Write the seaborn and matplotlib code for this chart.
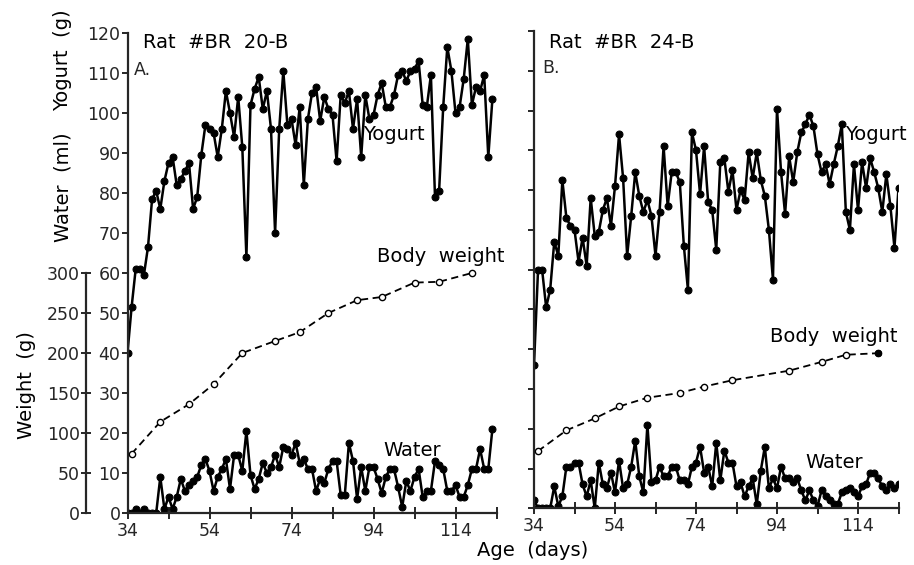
import matplotlib
matplotlib.use("Agg")
import matplotlib.pyplot as plt
import numpy as np
import seaborn as sns

# Panel A: Rat #BR 20-B, daily intake from day 34
yogurt_a = [40, 51.5, 61, 61, 59.5, 66.5, 78.5, 80.5, 76, 83, 87.5, 89, 82, 83.5, 85.5, 87.5,
            76, 79, 89.5, 97, 96, 95, 89, 96, 105.5, 100, 94, 104, 91.5, 64, 102, 106, 109,
            101, 105.5, 96, 70, 96, 110.5, 97, 98.5, 92, 101.5, 82, 98.5, 105,
            106.5, 98, 104, 101, 99.5, 88, 104.5, 102.5, 105.5, 96, 103.5, 89, 104.5, 98.5,
            99.5, 104.5, 107.5, 101.5, 101.5, 104.5, 109.5, 110.5, 108, 110.5, 111, 113, 102,
            101.5, 109.5, 79, 80.5, 101.5, 116.5, 110.5, 100, 101.5, 108.5, 118.5, 102, 106.5,
            105.5, 109.5, 89, 103.5]
water_a = [0, 0, 1, 0, 1, 0, 0, 0, 9, 1, 4, 1, 4, 8.5, 5.5, 7, 8, 9, 12, 13.5, 10.5, 5.5, 9,
           11, 13.5, 6, 14.5, 14.5, 10.5, 20.5, 9.5, 6, 8.5, 12.5, 10, 11.5, 14.5, 11.5, 16.5,
           16, 14.5, 17.5, 12.5, 13.5, 11, 11, 5.5, 8.5,
           7.5, 11, 13, 13, 4.5, 4.5, 17.5, 13, 3.5, 11.5, 5.5, 11.5, 11.5, 8.5, 5, 9, 11, 11,
           6.5, 1.5, 8, 5.5, 9, 11, 4, 5.5, 5.5, 13, 12, 11, 5.5, 5.5, 7, 4, 4, 7, 11, 11, 16,
           11, 11, 21]
weight_days_a = [35, 42, 49, 55, 62, 70, 76, 83, 90, 96, 104, 110, 118]
weight_a = [74, 114, 136, 161, 200, 215, 226, 250, 266, 270, 288, 289, 300]

# Panel B: Rat #BR 24-B
yogurt_b = [36, 60, 60, 50.5, 55, 67, 63.5, 82.5, 73, 71, 70, 62, 68, 61, 78, 68.5, 69.5, 75,
            78, 71, 81, 94, 83, 63.5, 73.5, 84.5, 78.5, 74.5, 77.5, 73.5, 63.5, 74.5, 91, 76,
            84.5, 84.5, 82, 66, 55, 94.5, 90, 79, 91, 77, 75, 65, 87, 88,
            79.5, 85, 75, 80, 77.5, 89.5, 83, 89.5, 82.5, 78.5, 70, 57.5, 100.5, 84.5, 74,
            88.5, 82, 89.5, 94.5, 96.5, 99, 96, 89, 84.5, 86.5, 81.5, 86.5, 91, 96.5, 74.5,
            70, 86.5, 75, 87, 80.5, 88, 84.5, 80.5, 74.5, 84, 76, 65.5, 80.5]
water_b = [2, 0, 0, 0, 0, 5.5, 0.5, 3, 10.5, 10.5, 11.5, 11.5, 6, 3, 7, 0, 11.5, 6, 5, 9, 4,
           12, 5, 6, 10.5, 17, 8, 4, 21, 6.5, 7, 10.5, 8, 8, 10.5, 10.5, 7, 7, 6, 10.5, 11.5,
           15.5, 9, 10.5, 5.5, 16.5,
           7, 14.5, 11.5, 11.5, 5.5, 6.5, 3, 5.5, 7.5, 1, 9.5, 15.5, 5, 7.5, 5, 10.5, 7.5,
           7.5, 6.5, 7.5, 4.5, 2, 4.5, 2, 0.5, 4.5, 3, 2, 1, 1, 4, 4.5, 5, 4, 3, 5.5, 6, 9, 9,
           7.5, 5.5, 4.5, 6, 5, 6]
weight_days_b = [35, 42, 49, 55, 62, 70, 76, 83, 97, 105, 111, 119]
weight_b = [72, 98, 113, 128, 139, 145, 153, 161, 173, 184, 193, 195]

x_ticks = list(range(34, 125, 10))
x_labels = ["34", "", "54", "", "74", "", "94", "", "114", ""]
intake_ticks = list(range(0, 121, 10))
weight_ticks = list(range(0, 301, 50))

sns.set_style("ticks")
plt.rcParams["font.family"] = ["DejaVu Sans"]
plt.rcParams["axes.linewidth"] = 1.6

W, H = 914, 565
fig = plt.figure(figsize=(W / 100, H / 100), dpi=100)


def px(x, y):
    return x / W, 1 - y / H


def draw_panel(rect, yogurt, water, w_days, weight, first):
    ax = fig.add_axes(rect)
    days = np.arange(34, 34 + len(yogurt))
    days_w = np.arange(34, 34 + len(water))
    line_kw = dict(color="black", linewidth=1.8, marker="o", markersize=5,
                   markeredgecolor="black", ax=ax)
    sns.lineplot(x=days, y=yogurt, **line_kw)
    sns.lineplot(x=days_w, y=water, **line_kw)
    ax.set_xlim(34, 124)
    ax.set_ylim(0, 120)
    ax.set_xticks(x_ticks)
    ax.set_xticklabels(x_labels, fontsize=12.5)
    ax.set_yticks(intake_ticks)
    if first:
        ax.set_yticklabels([str(t) for t in intake_ticks], fontsize=12.5)
    else:
        ax.set_yticklabels([])
    ax.tick_params(axis="x", direction="inout", length=9, width=1.4, pad=2)
    ax.tick_params(axis="y", direction="out", length=4, width=1.4, pad=1)
    for side in ["top", "right"]:
        ax.spines[side].set_visible(False)
    ax.set_xlabel("")
    ax.set_ylabel("")
    ax.patch.set_alpha(0)

    # body weight uses its own 0-600 scale so that 300 g sits at the 60 mark
    axw = ax.twinx()
    sns.lineplot(x=w_days, y=weight, ax=axw, color="black", linewidth=1.3,
                 linestyle=(0, (4, 2.5)), marker="o", markersize=4.5,
                 markerfacecolor="white", markeredgecolor="black", markeredgewidth=1)
    axw.set_ylim(0, 600)
    axw.set_ylabel("")
    axw.spines["right"].set_visible(False)
    axw.spines["top"].set_visible(False)
    axw.spines["bottom"].set_visible(False)
    if first:
        axw.spines["left"].set_visible(True)
        axw.spines["left"].set_position(("axes", -0.1125))
        axw.spines["left"].set_bounds(0, 300)
        axw.yaxis.set_ticks_position("left")
        axw.set_yticks(weight_ticks)
        axw.set_yticklabels([str(t) for t in weight_ticks], fontsize=12.5)
        axw.tick_params(axis="y", direction="inout", length=7, width=1.4, pad=1)
    else:
        axw.spines["left"].set_visible(False)
        axw.set_yticks([])
        # last weighing in panel B is drawn filled
        sns.scatterplot(x=w_days[-1:], y=weight[-1:], ax=axw, color="black", s=22,
                        edgecolor="black", zorder=5)
    return ax


draw_panel([127.5 / W, 1 - 513 / H, 369 / W, 480 / H],
           yogurt_a, water_a, weight_days_a, weight_a, True)
draw_panel([534 / W, 1 - 508.3 / H, 364.5 / W, 477.3 / H],
           yogurt_b, water_b, weight_days_b, weight_b, False)

txt = dict(fontsize=14, color="black")
fig.text(*px(143, 43), "Rat  #BR  20-B", va="center", ha="left", **txt)
fig.text(*px(134, 70), "A.", va="center", ha="left", fontsize=12.5)
fig.text(*px(549, 43), "Rat  #BR  24-B", va="center", ha="left", **txt)
fig.text(*px(542, 68), "B.", va="center", ha="left", fontsize=12.5)

fig.text(*px(363, 135), "Yogurt", va="center", ha="left", **txt)
fig.text(*px(377, 256), "Body  weight", va="center", ha="left", **txt)
fig.text(*px(383, 450), "Water", va="center", ha="left", **txt)
fig.text(*px(845, 135), "Yogurt", va="center", ha="left", **txt)
fig.text(*px(770, 337), "Body  weight", va="center", ha="left", **txt)
fig.text(*px(805, 463), "Water", va="center", ha="left", **txt)

fig.text(*px(63, 60), "Yogurt  (g)", rotation=90, va="center", ha="center", **txt)
fig.text(*px(63, 187), "Water  (ml)", rotation=90, va="center", ha="center", **txt)
fig.text(*px(26, 385), "Weight  (g)", rotation=90, va="center", ha="center", **txt)
fig.text(*px(533, 551), "Age  (days)", va="center", ha="center", **txt)

fig.savefig("out.png", dpi=100)
